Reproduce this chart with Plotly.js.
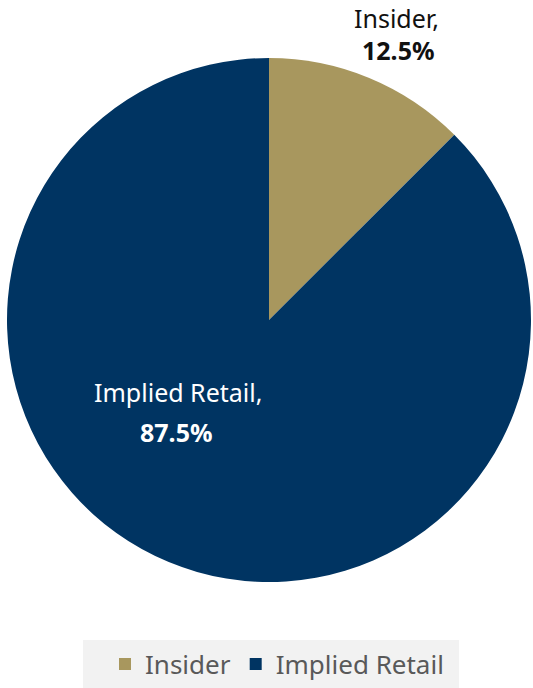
<!DOCTYPE html>
<html>
<head>
<meta charset="utf-8">
<script src="https://cdn.plot.ly/plotly-3.0.1.min.js"></script>
<style>html,body{margin:0;padding:0;background:#fff;}#chart{width:533px;height:688px;}</style>
</head>
<body>
<div id="chart"></div>
<script>
var categories = ["Insider", "Implied Retail"];
var shares = [12.5, 87.5];
var sliceColors = ["#A8975E", "#003462"];

var W = 533, H = 688;
var font = "Noto Sans, Open Sans, sans-serif";

var trace = {
  type: "pie",
  labels: categories,
  values: shares,
  sort: false,
  direction: "clockwise",
  rotation: 0,
  textinfo: "none",
  hoverinfo: "label+percent",
  marker: {colors: sliceColors, line: {width: 0}},
  domain: {x: [7 / W, 531 / W], y: [1 - 582 / H, 1 - 58 / H]}
};

function ann(text, px, py, color, bold) {
  return {text: bold ? "<b>" + text + "</b>" : text, xref: "paper", yref: "paper",
          x: px / W, y: 1 - py / H, xanchor: "center", yanchor: "middle",
          showarrow: false, font: {family: font, size: 25, color: color}};
}

var layout = {
  width: W, height: H,
  margin: {l: 0, r: 0, t: 0, b: 0},
  paper_bgcolor: "#ffffff",
  showlegend: true,
  legend: {
    orientation: "h",
    x: 277 / W, xanchor: "center",
    y: 1 - 664 / H, yanchor: "middle",
    bgcolor: "rgba(0,0,0,0)",
    font: {family: font, size: 26, color: "#595959"}
  },
  shapes: [{
    type: "rect", xref: "paper", yref: "paper", layer: "below",
    x0: 83 / W, x1: 459 / W, y0: 0, y1: 1 - 640 / H,
    fillcolor: "#F2F2F2", line: {width: 0}
  }],
  annotations: [
    ann(categories[0] + ",", 396, 18, "#111111", false),
    ann(shares[0].toFixed(1) + "%", 398, 50, "#111111", true),
    ann(categories[1] + ",", 178, 392, "#ffffff", false),
    ann(shares[1].toFixed(1) + "%", 176, 432, "#ffffff", true)
  ]
};

Plotly.newPlot("chart", [trace], layout, {displayModeBar: false, staticPlot: true});
</script>
</body>
</html>
